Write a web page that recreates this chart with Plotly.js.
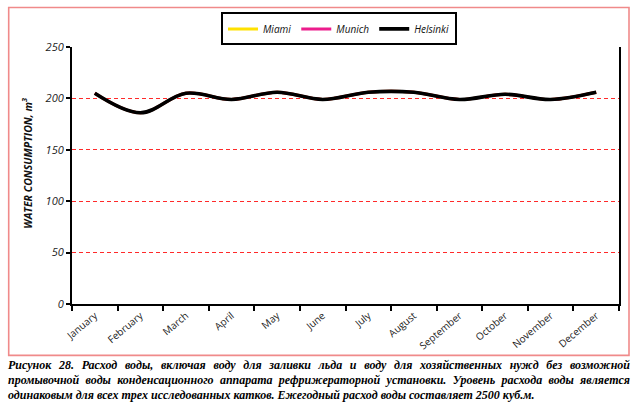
<!DOCTYPE html>
<html>
<head>
<meta charset="utf-8">
<script src="https://cdn.plot.ly/plotly-3.0.1.min.js"></script>
<style>
  html, body { margin: 0; padding: 0; background: #fff; }
  #wrap { position: relative; width: 638px; height: 410px; overflow: hidden; }
  #chart { position: absolute; left: 0; top: 0; width: 638px; height: 410px; }
  #caption { position: absolute; left: 8px; top: 358px; width: 622px;
    font-family: "Liberation Serif", "Times New Roman", serif; font-weight: bold; font-style: italic;
    font-size: 12px; line-height: 15px; color: #000; }
  .j { text-align: justify; text-align-last: justify; white-space: nowrap; }
  .l { text-align: left; white-space: nowrap; }
</style>
</head>
<body>
<div id="wrap">
  <div id="chart"></div>
  <div id="caption"></div>
</div>
<script>
const months = ["January","February","March","April","May","June","July","August","September","October","November","December"];
const miami    = [205, 186, 205, 199, 206, 199, 206, 206, 199, 204, 199, 206];
const munich   = [205, 186, 205, 199, 206, 199, 206, 206, 199, 204, 199, 206];
const helsinki = [205, 186, 205, 199, 206, 199, 206, 206, 199, 204, 199, 206];
const seriesNames = ["Miami", "Munich", "Helsinki"];
const seriesColors = ["#ffe100", "#ec1c8c", "#000000"];
const yTitle = "WATER CONSUMPTION, m<sup>3</sup>";
const captionLines = [
  "Рисунок 28. Расход воды, включая воду для заливки льда и воду для хозяйственных нужд без возможной",
  "промывочной воды конденсационного аппарата рефрижераторной установки. Уровень расхода воды является",
  "одинаковым для всех трех исследованных катков. Ежегодный расход воды составляет 2500 куб.м."
];

const allSeries = [miami, munich, helsinki];
const traces = allSeries.map((vals, i) => ({
  type: "scatter", mode: "lines", name: seriesNames[i],
  x: months, y: vals,
  line: { color: seriesColors[i], width: i === 2 ? 3.6 : 3, shape: "spline", smoothing: 1 }
}));

const L = 72, R = 619, T = 44, B = 304, W = 638, H = 410;
const pw = R - L, ph = B - T;
const px = v => (v - L) / pw;
const py = v => (B - v) / ph;

const layout = {
  width: W, height: H,
  margin: { l: L, r: W - R, t: T, b: H - B, pad: 0 },
  paper_bgcolor: "#ffffff", plot_bgcolor: "#ffffff",
  showlegend: true,
  legend: {
    orientation: "h", x: px(339), xanchor: "center", y: py(9), yanchor: "top",
    bgcolor: "#ffffff", bordercolor: "#000000", borderwidth: 2,
    font: { family: "Open Sans, DejaVu Sans, sans-serif", size: 10, color: "#111", style: "italic" },
    itemwidth: 30, tracegroupgap: 0
  },
  xaxis: {
    type: "category", tickson: "boundaries", range: [-0.5, months.length - 0.5],
    ticks: "outside", ticklen: 5, tickwidth: 2, tickcolor: "#000",
    showline: true, linecolor: "#000", linewidth: 2,
    showgrid: false, zeroline: false,
    tickangle: -40,
    tickfont: { family: "Open Sans, DejaVu Sans, sans-serif", size: 10, color: "#222" },
    fixedrange: true
  },
  yaxis: {
    range: [0, 250], tickvals: [0, 50, 100, 150, 200, 250],
    ticks: "outside", ticklen: 4, tickwidth: 2, tickcolor: "#000",
    showline: true, linecolor: "#000", linewidth: 2, mirror: true,
    showgrid: true, gridcolor: "#ff2a2a", gridwidth: 1, griddash: "4px,3px",
    zeroline: false,
    tickfont: { family: "Open Sans, DejaVu Sans, sans-serif", size: 11, color: "#222", style: "italic" },
    fixedrange: true
  },
  annotations: [{
    text: yTitle, xref: "paper", yref: "paper", x: px(27), y: py(162),
    xanchor: "center", yanchor: "middle", textangle: -90, showarrow: false,
    font: { family: "Open Sans, DejaVu Sans, sans-serif", size: 10.5, color: "#111", weight: "bold", style: "italic" }
  }],
  shapes: [{
    type: "rect", xref: "paper", yref: "paper", layer: "above",
    x0: px(8.7), x1: px(629), y0: py(356), y1: py(4),
    line: { color: "#f08a8a", width: 1.6 }, fillcolor: "rgba(0,0,0,0)"
  }]
};

Plotly.newPlot("chart", traces, layout, { displayModeBar: false, staticPlot: true });

const cap = document.getElementById("caption");
captionLines.forEach((t, i) => {
  const d = document.createElement("div");
  d.className = i < captionLines.length - 1 ? "j" : "l";
  d.textContent = t;
  cap.appendChild(d);
});
</script>
</body>
</html>
